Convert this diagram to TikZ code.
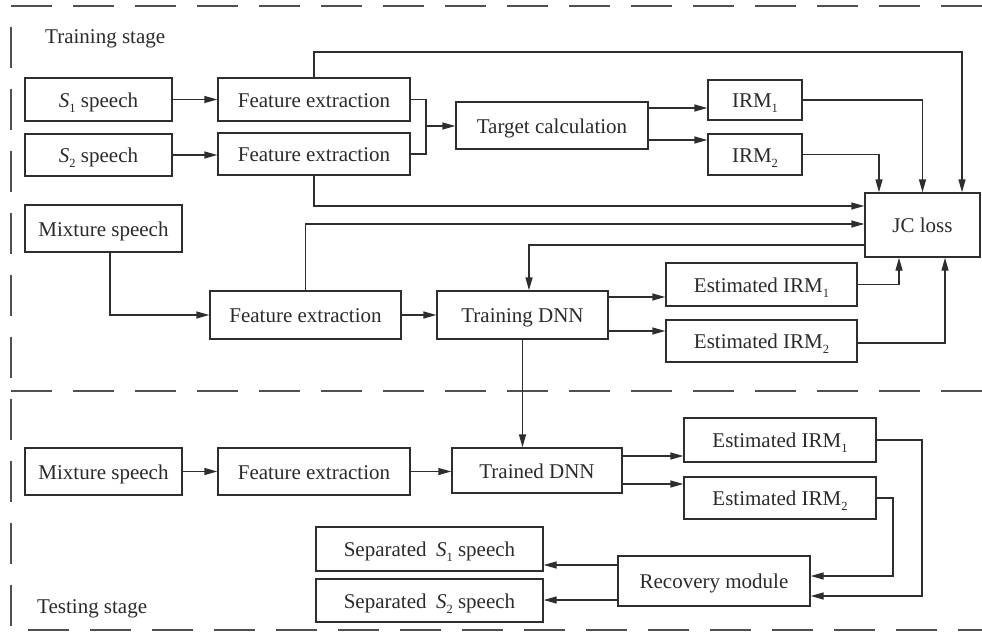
\documentclass[tikz,border=0pt]{standalone}
\usepackage{fontspec}
\setmainfont{Liberation Serif}
\usetikzlibrary{arrows.meta}
\newcommand\lsub[1]{\raisebox{-0.26em}[0pt][0pt]{\fontsize{12.5}{12.5}\selectfont #1}}
\newcommand\Sx[1]{\textit{S}\lsub{#1}}
\definecolor{linec}{HTML}{2E2E2E}
\definecolor{txtc}{HTML}{2A2A2A}
\definecolor{framec}{HTML}{505050}
\begin{document}
\begin{tikzpicture}[x=1pt,y=-1pt,
  box/.style={draw=linec, line width=1.4pt, inner sep=0pt, text=txtc,
    text height=19pt, text depth=4pt,
    font=\fontsize{21}{25}\selectfont},
  ln/.style={draw=linec, line width=1.4pt},
  arr/.style={ln, -{Triangle[length=13pt,width=7pt]}},
  frame/.style={draw=framec, line width=1.5pt, dash pattern=on 41pt off 21pt},
  lbl/.style={inner sep=0pt, anchor=base west, text=txtc, font=\fontsize{21}{25}\selectfont}]
\useasboundingbox (0,0) rectangle (982,634);
% frame
\coordinate (ftl) at (11,6);
\coordinate (ftr) at (982,6);
\coordinate (fml) at (11,391);
\coordinate (fmr) at (982,391);
\coordinate (fbl) at (11,630);
\coordinate (fbr) at (982,630);
\draw[frame] (ftr) -- (ftl) -- (fbl) -- (fbr);
\draw[frame] (fml) -- (fmr);
\node[lbl] (trainlbl) at (45,44) {Training stage};
\node[lbl] (testlbl) at (37,613) {Testing stage};
% training boxes
\node[box, minimum width=147pt, minimum height=43pt] (s1) at (98.5,99.5) {\Sx{1} speech};
\node[box, minimum width=147pt, minimum height=42pt] (s2) at (98.5,155) {\Sx{2} speech};
\node[box, minimum width=192pt, minimum height=43pt] (fe1) at (314,99.5) {Feature extraction};
\node[box, minimum width=192pt, minimum height=42pt] (fe2) at (314,154) {Feature extraction};
\node[box, minimum width=192pt, minimum height=47pt] (tc) at (552,125.5) {Target calculation};
\node[box, minimum width=94pt, minimum height=40pt] (irm1) at (755,100) {IRM\lsub{1}};
\node[box, minimum width=94pt, minimum height=41pt] (irm2) at (755,154.5) {IRM\lsub{2}};
\node[box, minimum width=115pt, minimum height=64pt] (jc) at (922.5,225) {JC loss};
\node[box, minimum width=157pt, minimum height=47pt] (mix) at (103.5,228.5) {Mixture speech};
\node[box, minimum width=191pt, minimum height=48pt] (fe3) at (305.5,315) {Feature extraction};
\node[box, minimum width=171pt, minimum height=48pt] (tdnn) at (522.5,315) {Training DNN};
\node[box, minimum width=191pt, minimum height=43pt] (e1) at (761.5,284.5) {Estimated IRM\lsub{1}};
\node[box, minimum width=191pt, minimum height=42pt] (e2) at (761.5,341) {Estimated IRM\lsub{2}};
% testing boxes
\node[box, minimum width=157pt, minimum height=47pt] (mix2) at (103.5,471.5) {Mixture speech};
\node[box, minimum width=192pt, minimum height=47pt] (fe4) at (314,471.5) {Feature extraction};
\node[box, minimum width=170pt, minimum height=45pt] (trd) at (537,470.5) {Trained DNN};
\node[box, minimum width=192pt, minimum height=44pt] (te1) at (780,440) {Estimated IRM\lsub{1}};
\node[box, minimum width=192pt, minimum height=42pt] (te2) at (780,498) {Estimated IRM\lsub{2}};
\node[box, minimum width=192pt, minimum height=50pt] (rec) at (714,581) {Recovery module};
\node[box, minimum width=227pt, minimum height=44pt] (sep1) at (429.5,549) {Separated\hspace{0.45em}\Sx{1} speech};
\node[box, minimum width=227pt, minimum height=43pt] (sep2) at (429.5,600.5) {Separated\hspace{0.45em}\Sx{2} speech};
% training connectors
\draw[arr] (s1.east) -- (s1.east -| fe1.west);
\draw[arr] (s2.east) -- (s2.east -| fe2.west);
\coordinate (j1) at (426,126);
\draw[ln] (fe1.east) -| (j1);
\draw[ln] (fe2.east) -| (j1);
\draw[arr] (j1) -- (j1 -| tc.west);
\draw[arr] ([yshift=17.5pt]tc.east) -- ([yshift=17.5pt]tc.east -| irm1.west);
\draw[arr] ([yshift=-14.5pt]tc.east) -- ([yshift=-14.5pt]tc.east -| irm2.west);
\draw[arr] (irm1.east) -| (jc.north);
\draw[arr] (irm2.east) -| ([xshift=-43.5pt]jc.north);
\coordinate (topr) at (962,52);
\draw[arr] (fe1.north) |- (topr) -- (topr |- jc.north);
\draw[arr] (fe2.south) |- ([yshift=19pt]jc.west);
\draw[arr] ([xshift=6.5pt]mix.south) |- (fe3.west);
\draw[arr] (fe3.north) |- ([yshift=1pt]jc.west);
\draw[arr] (fe3.east) -- (tdnn.west);
\draw[arr] ([yshift=-20pt]jc.west) -| ([xshift=6.5pt]tdnn.north);
\draw[arr] ([yshift=18pt]tdnn.east) -- ([yshift=18pt]tdnn.east -| e1.west);
\draw[arr] ([yshift=-16pt]tdnn.east) -- ([yshift=-16pt]tdnn.east -| e2.west);
\draw[arr] (e1.east) -| ([xshift=-23.5pt]jc.south);
\draw[arr] ([yshift=-2pt]e2.east) -| ([xshift=22.5pt]jc.south);
\draw[arr] (tdnn.south) -- (tdnn.south |- trd.north);
% testing connectors
\draw[arr] (mix2.east) -- (fe4.west);
\draw[arr] (fe4.east) -- (fe4.east -| trd.west);
\draw[arr] ([yshift=14.5pt]trd.east) -- ([yshift=14.5pt]trd.east -| te1.west);
\draw[arr] ([yshift=-13.5pt]trd.east) -- ([yshift=-13.5pt]trd.east -| te2.west);
\coordinate (c1) at (922,596);
\coordinate (c2) at (893,576);
\draw[arr] (te1.east) -| (c1) -- (c1 -| rec.east);
\draw[arr] (te2.east) -| (c2) -- (c2 -| rec.east);
\draw[arr] ([yshift=16pt]rec.west) -- ([yshift=16pt]rec.west -| sep1.east);
\draw[arr] ([yshift=-19pt]rec.west) -- ([yshift=-19pt]rec.west -| sep2.east);
\end{tikzpicture}
\end{document}
